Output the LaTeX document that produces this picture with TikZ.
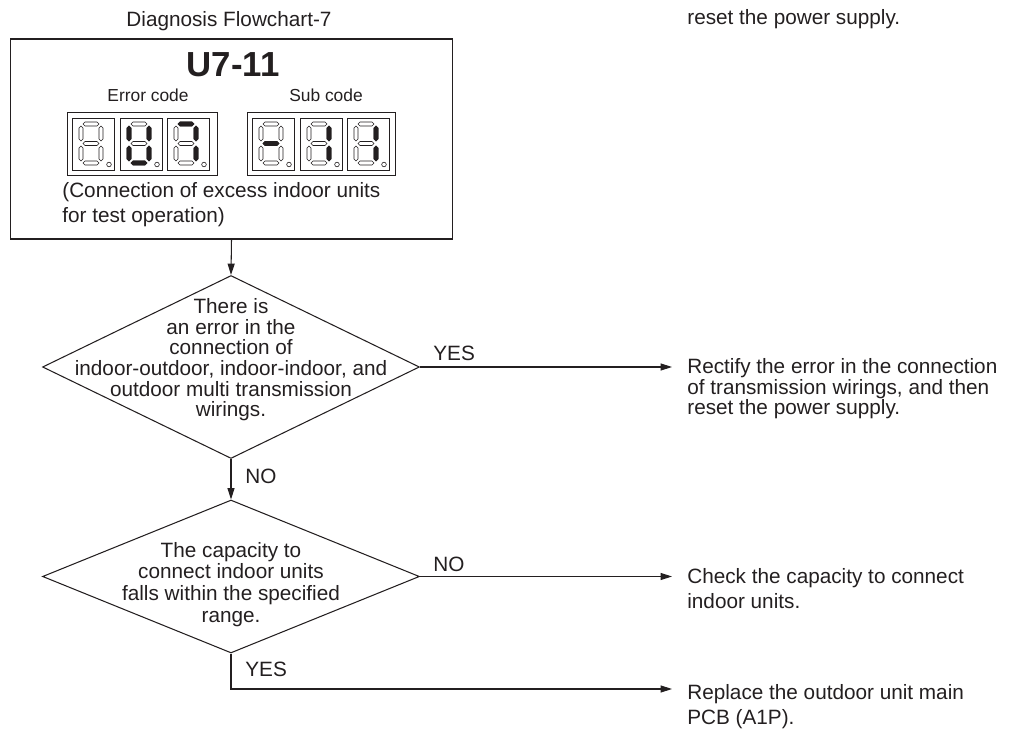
\documentclass[tikz,border=0pt]{standalone}
\usepackage{fontspec}
\setmainfont{Liberation Sans}
\usepackage{xcolor}
\definecolor{ink}{HTML}{231F20}
\usepackage{tikz}
\usetikzlibrary{positioning, arrows.meta, shapes.geometric}
\tikzset{
    txt/.style = {font=\fontsize{11.8}{14.7}\selectfont, text=ink,
                  inner sep=0pt, align=left},
    small/.style = {font=\fontsize{9.9}{12}\selectfont, text=ink, inner sep=0pt},
    code/.style = {font=\fontsize{19.8}{22}\selectfont\bfseries, text=ink, inner sep=0pt},
    panel/.style = {rectangle, draw=ink, line width=0.6pt,
                    minimum width=8.86cm, minimum height=4cm, inner sep=0pt},
    decision/.style = {diamond, draw=ink, line width=0.6pt, inner sep=0pt,
                       minimum width=7.54cm},
    cell/.style = {draw=ink, line width=0.45pt},
    segoff/.style = {draw=ink, line width=0.35pt, fill=white},
    segon/.style = {draw=ink, line width=0.35pt, fill=ink},
    arrow/.style = {-{Triangle[length=6.5pt, width=4pt]}, line width=0.6pt, draw=ink},
    line/.style = {line width=0.6pt, draw=ink},
}
% one segment: style, kind (h/v), x, y
\newcommand{\segpiece}[4]{%
  \if h#2\draw[#1] (#3,#4) -- ++(2,-2) -- ++(12,0) -- ++(2,2) -- ++(-2,2) -- ++(-12,0) -- cycle;\fi
  \if v#2\draw[#1] (#3,#4) -- ++(2,2) -- ++(0,11) -- ++(-2,2) -- ++(-2,-2) -- ++(0,-11) -- cycle;\fi}
% one display cell: x, y of its corner, lit segments
\newcommand{\segdigit}[3]{%
  \begin{scope}[shift={(#1,#2)}]
    \draw[cell] (0,0) rectangle (42,52);
    \foreach \k/\px/\py in {h/11/6, h/11/25.5, h/11/45, v/9/8, v/29/8, v/9/28, v/29/28}
      {\segpiece{segoff}{\k}{\px}{\py}}
    \foreach \k/\px/\py in {#3}
      {\segpiece{segon}{\k}{\px}{\py}}
    \draw[segoff] (37,46.5) circle (2.3);
  \end{scope}}

\begin{document}
\begin{tikzpicture}[x=0.02cm, y=-0.02cm]
  \useasboundingbox (0,0) rectangle (1018,729);

  % code panel
  \node[txt, anchor=base] (title) at (229,27) {Diagnosis Flowchart-7};
  \node[panel] (box) at (231.5,139) {};
  \node[code, anchor=base] (u7) at (233,77) {U7-11};
  \node[small, anchor=base] (errlbl) at (148,102) {Error code};
  \node[small, anchor=base] (sublbl) at (326,102) {Sub code};
  \draw[cell] (67,112) rectangle (217,175);
  \draw[cell] (247,112) rectangle (395,175);
  \segdigit{72}{118}{n/0/0}
  \segdigit{120}{118}{v/9/8, v/29/8, v/9/28, v/29/28, h/11/45}
  \segdigit{167}{118}{h/11/6, v/29/8, v/29/28}
  \segdigit{252}{118}{h/11/25.5}
  \segdigit{300}{118}{v/29/8, v/29/28}
  \segdigit{347}{118}{v/29/8, v/29/28}
  \node[txt, anchor=base west] (note) at (62,223)
    {(Connection of excess indoor units\\for test operation)};

  % decisions
  \node[decision, minimum height=3.66cm] (d1) at (231,367) {};
  \node[txt, align=center, anchor=base, font=\fontsize{11.8}{11.8}\selectfont] (q1) at (231,417)
    {There is\\an error in the\\connection of\\indoor-outdoor, indoor-indoor, and\\outdoor multi transmission\\wirings.};
  \node[decision, minimum height=3.06cm] (d2) at (231,576.5) {};
  \node[txt, align=center, anchor=base, font=\fontsize{11.8}{12.3}\selectfont] (q2) at (231,622)
    {The capacity to\\connect indoor units\\falls within the specified\\range.};

  % actions
  \node[txt, anchor=base west] (top) at (687,25) {reset the power supply.};
  \node[txt, anchor=base west, font=\fontsize{11.8}{11.9}\selectfont] (act1) at (687,415)
    {Rectify the error in the connection\\of transmission wirings, and then\\reset the power supply.};
  \node[txt, anchor=base west, font=\fontsize{11.8}{14.2}\selectfont] (act2) at (687,608)
    {Check the capacity to connect\\indoor units.};
  \node[txt, anchor=base west, font=\fontsize{11.8}{13.8}\selectfont] (act3) at (687,724)
    {Replace the outdoor unit main\\PCB (A1P).};
  \coordinate (t1) at (672,367);
  \coordinate (t2) at (672,576.5);
  \coordinate (t3) at (672,689);

  % connectors
  \draw[arrow] (box.south) -- (d1.north);
  \draw[arrow] (d1.south) -- (d2.north);
  \draw[arrow] (d1.east) -- (t1);
  \draw[arrow] (d2.east) -- (t2);
  \draw[arrow] (d2.south) |- (t3);
  \node[txt, anchor=base west] (yes1) at (433,361) {YES};
  \node[txt, anchor=base west] (no1) at (245,483) {NO};
  \node[txt, anchor=base west] (no2) at (433,571) {NO};
  \node[txt, anchor=base west] (yes2) at (245,676) {YES};
\end{tikzpicture}
\end{document}
